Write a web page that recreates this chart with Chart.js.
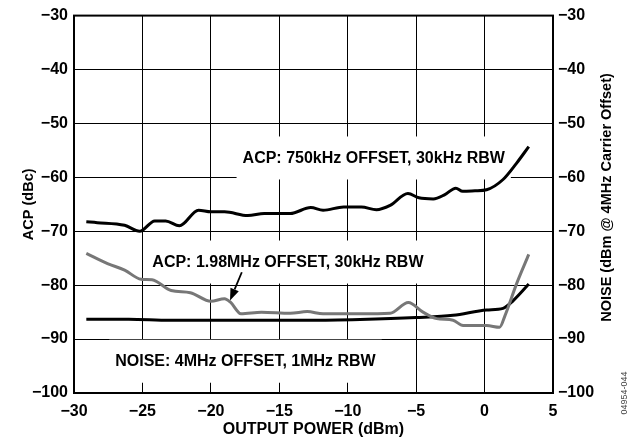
<!DOCTYPE html>
<html>
<head>
<meta charset="utf-8">
<script src="https://cdn.jsdelivr.net/npm/chart.js@4.4.1/dist/chart.umd.min.js"></script>
<style>
html,body{margin:0;padding:0;background:#fff;}
#wrap{width:632px;height:439px;position:relative;}
</style>
</head>
<body>
<div id="wrap"><canvas id="c" width="632" height="439"></canvas></div>
<script>
// ---- data ----
const xTicks = [-30, -25, -20, -15, -10, -5, 0, 5];
const yTicks = [-30, -40, -50, -60, -70, -80, -90, -100];

const acp750X = [-29.1,-28.3,-26.3,-25.2,-24.1,-23.3,-22.3,-20.9,-20,-19,-17.3,-16.1,-14.2,-12.7,-11.8,-10.3,-9,-7.9,-6.9,-5.6,-4.8,-3.75,-2.9,-2.1,-1.6,-0.7,0.15,1.35,2.33,3.23];
const acp750Y = [-68.25,-68.4,-68.9,-70.0,-68.1,-68.1,-69.0,-66.1,-66.4,-66.4,-67.1,-66.7,-66.7,-65.6,-66.1,-65.5,-65.5,-66.0,-65.2,-63.0,-63.8,-64.0,-63.2,-62.0,-62.6,-62.5,-62.3,-60.4,-57.4,-54.3];

const acp198X = [-29.1,-27.55,-26.3,-25.1,-24.3,-22.9,-21.5,-20,-19,-18.55,-17.8,-16.3,-14.2,-12.96,-11.8,-9.1,-6.9,-5.57,-4.5,-3.5,-2.3,-1.57,0.15,1.1,1.5,2.33,3.23];
const acp198Y = [-74.1,-76.0,-77.2,-78.9,-79.0,-81.0,-81.4,-83.0,-82.5,-83.2,-85.3,-85.0,-85.2,-84.9,-85.3,-85.3,-85.2,-83.2,-85.0,-86.2,-86.5,-87.5,-87.5,-87.8,-85.6,-79.8,-74.3];

const noiseX = [-29.1,-26,-23,-20,-16,-12.7,-9.1,-5,-2.3,0.15,1.35,2.08,3.23];
const noiseY = [-86.3,-86.3,-86.5,-86.5,-86.5,-86.5,-86.35,-86.0,-85.6,-84.6,-84.3,-82.9,-79.8];

const labels = [
  {text: 'ACP: 750kHz OFFSET, 30kHz RBW', x: -8.1, y: -56.5},
  {text: 'ACP: 1.98MHz OFFSET, 30kHz RBW', x: -14.37, y: -75.8},
  {text: 'NOISE: 4MHz OFFSET, 1MHz RBW', x: -17.47, y: -94.2}
];
const arrowFrom = {x: -17.74, y: -77.6};
const arrowTo = {x: -18.6, y: -82.85};

const FONT = '"Liberation Sans", Arial, Helvetica, sans-serif';
const toPts = (xs, ys) => xs.map((x, i) => ({x: x, y: ys[i]}));
const minus = v => String(v).replace('-', '\u2212');

const annot = {
  id: 'annot',
  beforeDatasetsDraw(chart) {
    const ctx = chart.ctx, xs = chart.scales.x, ys = chart.scales.y;
    const ca = chart.chartArea;
    ctx.save();
    ctx.font = 'bold 16px ' + FONT;
    ctx.textAlign = 'center';
    ctx.textBaseline = 'middle';
    labels.forEach(l => {
      const px = xs.getPixelForValue(l.x), py = ys.getPixelForValue(l.y);
      const w = ctx.measureText(l.text).width;
      ctx.fillStyle = '#fff';
      ctx.fillRect(px - w / 2 - 6, py - 22, w + 12, 43);
      ctx.fillStyle = '#000';
      ctx.fillText(l.text, px, py);
    });
    // full frame
    ctx.strokeStyle = '#000';
    ctx.lineWidth = 2;
    ctx.strokeRect(ca.left, ca.top, ca.right - ca.left, ca.bottom - ca.top);
    ctx.restore();
  },
  afterDraw(chart) {
    const ctx = chart.ctx, xs = chart.scales.x, ys = chart.scales.y;
    const x1 = xs.getPixelForValue(arrowFrom.x), y1 = ys.getPixelForValue(arrowFrom.y);
    const x2 = xs.getPixelForValue(arrowTo.x), y2 = ys.getPixelForValue(arrowTo.y);
    ctx.save();
    ctx.strokeStyle = '#000';
    ctx.fillStyle = '#000';
    ctx.lineWidth = 1.8;
    const ang = Math.atan2(y2 - y1, x2 - x1);
    const hl = 12, hw = 4.5;
    const bx = x2 - hl * Math.cos(ang), by = y2 - hl * Math.sin(ang);
    ctx.beginPath(); ctx.moveTo(x1, y1); ctx.lineTo(bx, by); ctx.stroke();
    ctx.beginPath();
    ctx.moveTo(x2, y2);
    ctx.lineTo(bx + hw * Math.sin(ang), by - hw * Math.cos(ang));
    ctx.lineTo(bx - hw * Math.sin(ang), by + hw * Math.cos(ang));
    ctx.closePath(); ctx.fill();
    // right axis title, reading bottom to top
    ctx.font = 'bold 14.5px ' + FONT;
    ctx.textAlign = 'center';
    ctx.textBaseline = 'middle';
    ctx.translate(607, 197.5);
    ctx.rotate(-Math.PI / 2);
    ctx.fillText('NOISE (dBm @ 4MHz Carrier Offset)', 0, 0);
    ctx.restore();
    // figure id
    ctx.save();
    ctx.font = '9px ' + FONT;
    ctx.fillStyle = '#444';
    ctx.textAlign = 'center';
    ctx.textBaseline = 'middle';
    ctx.translate(625, 393);
    ctx.rotate(-Math.PI / 2);
    ctx.fillText('04954-044', 0, 0);
    ctx.restore();
  }
};

new Chart(document.getElementById('c'), {
  type: 'line',
  data: {
    datasets: [
      {data: toPts(acp750X, acp750Y), borderColor: '#000', borderWidth: 3, pointRadius: 0, cubicInterpolationMode: 'monotone', yAxisID: 'y'},
      {data: toPts(acp198X, acp198Y), borderColor: '#777', borderWidth: 3, pointRadius: 0, cubicInterpolationMode: 'monotone', yAxisID: 'y'},
      {data: toPts(noiseX, noiseY), borderColor: '#000', borderWidth: 3, pointRadius: 0, cubicInterpolationMode: 'monotone', yAxisID: 'y2'}
    ]
  },
  options: {
    responsive: false,
    animation: false,
    events: [],
    layout: {padding: {top: 13, left: 0, right: 0, bottom: 0}},
    plugins: {legend: {display: false}, tooltip: {enabled: false}},
    scales: {
      x: {
        type: 'linear', min: -30, max: 5,
        afterBuildTicks: s => { s.ticks = xTicks.map(v => ({value: v})); },
        afterFit: s => { s.height = 46; },
        ticks: {color: '#000', font: {family: FONT, size: 16, weight: 'bold'}, padding: 9, maxRotation: 0, callback: v => minus(v)},
        grid: {color: '#000', lineWidth: 1, drawTicks: false},
        border: {color: '#000', width: 2},
        title: {display: true, text: 'OUTPUT POWER (dBm)', color: '#000', font: {family: FONT, size: 16, weight: 'bold'}, padding: {top: 0, bottom: 0}}
      },
      y: {
        type: 'linear', position: 'left', min: -100, max: -30,
        afterBuildTicks: s => { s.ticks = yTicks.map(v => ({value: v})); },
        afterFit: s => { s.width = 74; },
        ticks: {color: '#000', font: {family: FONT, size: 16, weight: 'bold'}, padding: 6, callback: v => minus(v)},
        grid: {color: '#000', lineWidth: 1, drawTicks: false},
        border: {color: '#000', width: 2},
        title: {display: true, text: 'ACP (dBc)', color: '#000', font: {family: FONT, size: 14.5, weight: 'bold'}, padding: {top: 20, bottom: 4}}
      },
      y2: {
        type: 'linear', position: 'right', min: -100, max: -30,
        afterBuildTicks: s => { s.ticks = yTicks.map(v => ({value: v})); },
        afterFit: s => { s.width = 79; },
        ticks: {color: '#000', font: {family: FONT, size: 16, weight: 'bold'}, padding: 5, callback: v => minus(v)},
        grid: {display: false, drawTicks: false},
        border: {color: '#000', width: 2}
      }
    }
  },
  plugins: [annot]
});
</script>
</body>
</html>
